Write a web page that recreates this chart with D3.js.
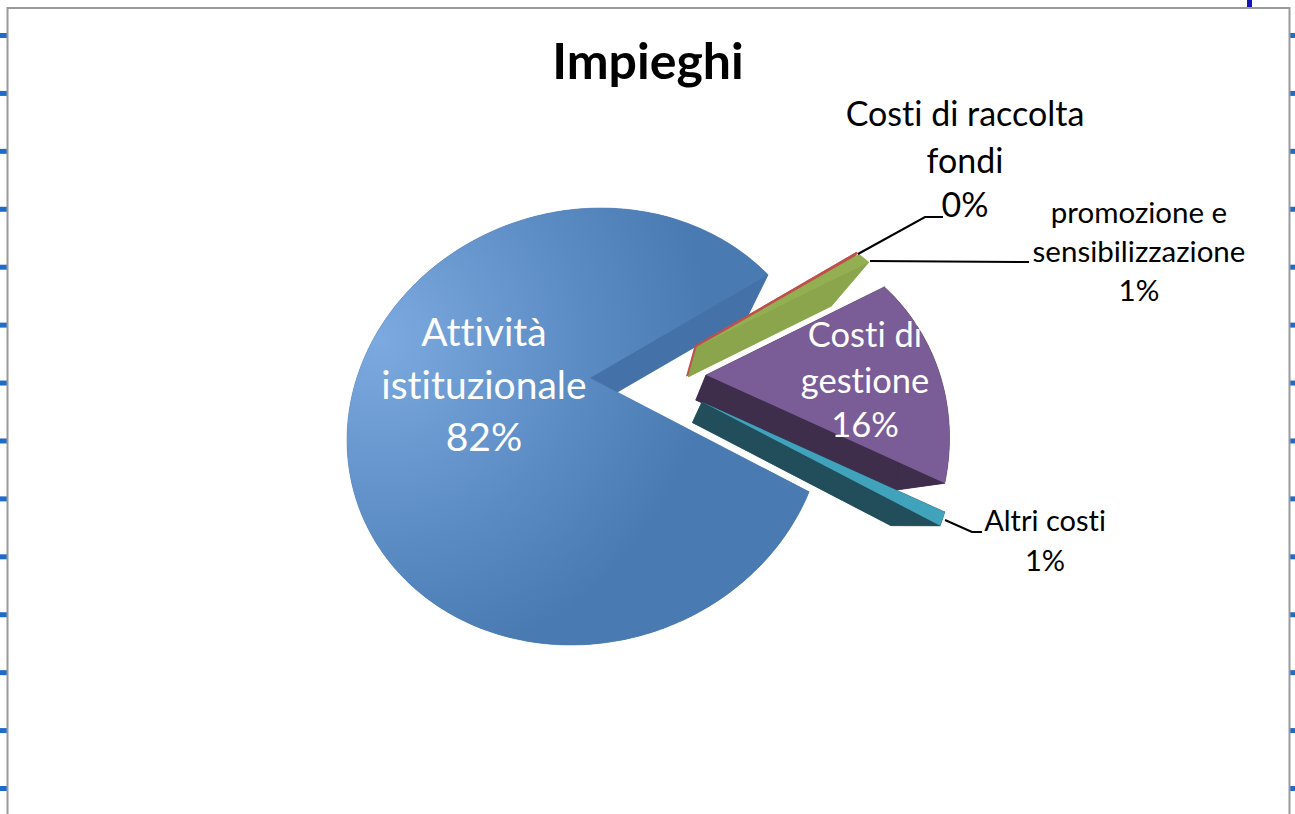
<!DOCTYPE html>
<html>
<head>
<meta charset="utf-8">
<script src="https://cdn.jsdelivr.net/npm/d3@7"></script>
<style>
  html, body { margin: 0; padding: 0; background: #fff; }
  svg { display: block; }
  text { font-family: Lato, "Noto Sans", sans-serif; font-variant-ligatures: none; }
</style>
</head>
<body>
<svg id="chart" width="1295" height="814"></svg>
<script>
// valori (il 0% e' una fetta sottilissima)
const categories = ["Attività istituzionale", "Costi di raccolta fondi", "promozione e sensibilizzazione", "Costi di gestione", "Altri costi"];
const values = [82, 0.1, 1, 16, 1];
const percentLabels = ["82%", "0%", "1%", "16%", "1%"];
const topColors = ["url(#blueGrad)", "#C0504D", "#93AF52", "#7A5C96", "#41A2BC"];
const wallColors = ["#4472A8", "#C0504D", "#8AA54B", "#3F2D4C", "#224E5C"];

// spostamento e raggio di ogni fetta esplosa
const explodeX = [0, 105, 107, 116, 112];
const explodeY = [0, -32, -31, -3, 24];
const radialStart = [1, 0.907, 0.905, 0.95, 1.085];
const radialEnd = [1, 0.907, 0.915, 1.067, 1.087];

const tickRows = d3.range(14);

const svg = d3.select("#chart");

const defs = svg.append("defs");
const grad = defs.append("radialGradient")
  .attr("id", "blueGrad")
  .attr("gradientUnits", "userSpaceOnUse")
  .attr("cx", 380).attr("cy", 340)
  .attr("r", 330);
grad.append("stop").attr("offset", 0).attr("stop-color", "#7CAAE0");
grad.append("stop").attr("offset", 0.6).attr("stop-color", "#5C8CC4");
grad.append("stop").attr("offset", 1).attr("stop-color", "#4A7AB2");

// cornice e tacche della pagina
const tickY = d3.scaleLinear().domain([0, 13]).range([35.5, 788.5]);
svg.append("g").selectAll("rect")
  .data(tickRows.flatMap((i) => [{ i, x: 0, w: 7 }, { i, x: 1290, w: 5 }]))
  .join("rect")
  .attr("x", (d) => d.x)
  .attr("y", (d) => tickY(d.i) - 2.5)
  .attr("width", (d) => d.w)
  .attr("height", 5)
  .attr("fill", "#1F6BC9");
svg.append("rect").attr("x", 1247).attr("y", 0).attr("width", 5).attr("height", 7).attr("fill", "#1414B4");
svg.append("path")
  .attr("d", "M7.5,814V8H1289.5V814")
  .attr("fill", "none")
  .attr("stroke", "#9A9A9A")
  .attr("stroke-width", 2);

// piano della torta in prospettiva
const xScale = d3.scaleLinear().domain([-1, 1]).range([347.5, 824.5]);
const yScale = d3.scaleLinear().domain([-1, 1]).range([208, 645]);
const shear = -15;
const apexXY0 = [590, 378];
const vanish = [645, 525];
const depth = 0.833;

const toBottom = (p) => [
  vanish[0] + depth * (p[0] - vanish[0]),
  vanish[1] + depth * (p[1] - vanish[1]),
];

const deg = Math.PI / 180;
const total = d3.sum(values);
const pieStart = 108;
const pie = d3.pie()
  .sort(null)
  .startAngle(pieStart * deg)
  .endAngle((pieStart + 360) * deg);
const arcs = pie(values);

// la prospettiva comprime il vuoto tra le fette: angolo vero -> angolo sul piano
const angleWarp = d3.scaleLinear()
  .domain([pieStart, pieStart + (360 * values[0]) / total, pieStart + 360])
  .range([107.4, 406, 467.4]);

const line = d3.line();

function rimPoint(angle) {
  const a = angleWarp(angle / deg) * deg;
  const u = Math.sin(a);
  const v = -Math.cos(a);
  return [xScale(u) + shear * v, yScale(v)];
}

function sliceGeometry(arc, i) {
  const apexXY = [apexXY0[0] + explodeX[i], apexXY0[1] + explodeY[i]];
  const steps = Math.max(2, Math.ceil((arc.endAngle - arc.startAngle) / 0.02));
  const rim = d3.range(steps + 1).map((k) => {
    const t = k / steps;
    const p = rimPoint(arc.startAngle + (arc.endAngle - arc.startAngle) * t);
    const r = radialStart[i] + (radialEnd[i] - radialStart[i]) * t;
    return [apexXY[0] + r * (p[0] - apexXY0[0]), apexXY[1] + r * (p[1] - apexXY0[1])];
  });
  return { apexXY, rim, bottomRim: rim.map(toBottom), bottomApex: toBottom(apexXY) };
}

const slices = svg.append("g").selectAll("g")
  .data(arcs)
  .join("g")
  .attr("class", "slice");

slices.each(function (arc, i) {
  const g = d3.select(this);
  const s = sliceGeometry(arc, i);
  const first = s.rim[0];
  const last = s.rim[s.rim.length - 1];
  const walls = [
    [s.bottomApex, ...s.bottomRim],
    [s.apexXY, first, toBottom(first), s.bottomApex],
    [s.apexXY, last, toBottom(last), s.bottomApex],
    [...s.rim, ...s.bottomRim.slice().reverse()],
  ];
  g.selectAll(".wall")
    .data(walls)
    .join("path")
    .attr("class", "wall")
    .attr("d", (d) => line(d) + "Z")
    .attr("fill", wallColors[i])
    .attr("stroke", wallColors[i])
    .attr("stroke-width", 0.5);
  g.append("path")
    .attr("class", "top")
    .attr("d", line([s.apexXY, ...s.rim]) + "Z")
    .attr("fill", topColors[i])
    .attr("stroke", i === 1 ? topColors[i] : "none")
    .attr("stroke-width", 0.8);
});

// linee guida delle etichette esterne
const leaders = [
  [[858, 254], [925, 217], [943, 217]],
  [[870, 261], [1029, 262]],
  [[945, 520], [972, 532], [982, 532]],
];
svg.append("g").selectAll("path")
  .data(leaders)
  .join("path")
  .attr("d", (d) => line(d))
  .attr("fill", "none")
  .attr("stroke", "#000")
  .attr("stroke-width", 2);

// testi
const labelRows = [
  { t: "Impieghi", x: 648, y: 79, s: 50, w: 700, c: "#000" },
  { t: "Costi di raccolta", x: 965, y: 126, s: 34, c: "#000" },
  { t: "fondi", x: 965, y: 173, s: 34, c: "#000" },
  { t: percentLabels[1], x: 965, y: 217, s: 34, c: "#000" },
  { t: "promozione e", x: 1139, y: 223, s: 29.5, c: "#000" },
  { t: "sensibilizzazione", x: 1139, y: 262, s: 29.5, c: "#000" },
  { t: percentLabels[2], x: 1139, y: 301, s: 29.5, c: "#000" },
  { t: "Attività", x: 484, y: 346, s: 39, c: "#fff" },
  { t: "istituzionale", x: 484, y: 399, s: 39, c: "#fff" },
  { t: percentLabels[0], x: 484, y: 451, s: 39, c: "#fff" },
  { t: "Costi di", x: 865, y: 347, s: 34.5, c: "#fff" },
  { t: "gestione", x: 865, y: 393, s: 34.5, c: "#fff" },
  { t: percentLabels[3], x: 865, y: 437, s: 34.5, c: "#fff" },
  { t: "Altri costi", x: 1045, y: 531, s: 29, c: "#000" },
  { t: percentLabels[4], x: 1045, y: 571, s: 29, c: "#000" },
];
svg.append("g").selectAll("text")
  .data(labelRows)
  .join("text")
  .attr("x", (d) => d.x)
  .attr("y", (d) => d.y)
  .attr("text-anchor", "middle")
  .attr("font-size", (d) => d.s)
  .attr("font-weight", (d) => d.w || 400)
  .attr("fill", (d) => d.c)
  .text((d) => d.t);
</script>
</body>
</html>
